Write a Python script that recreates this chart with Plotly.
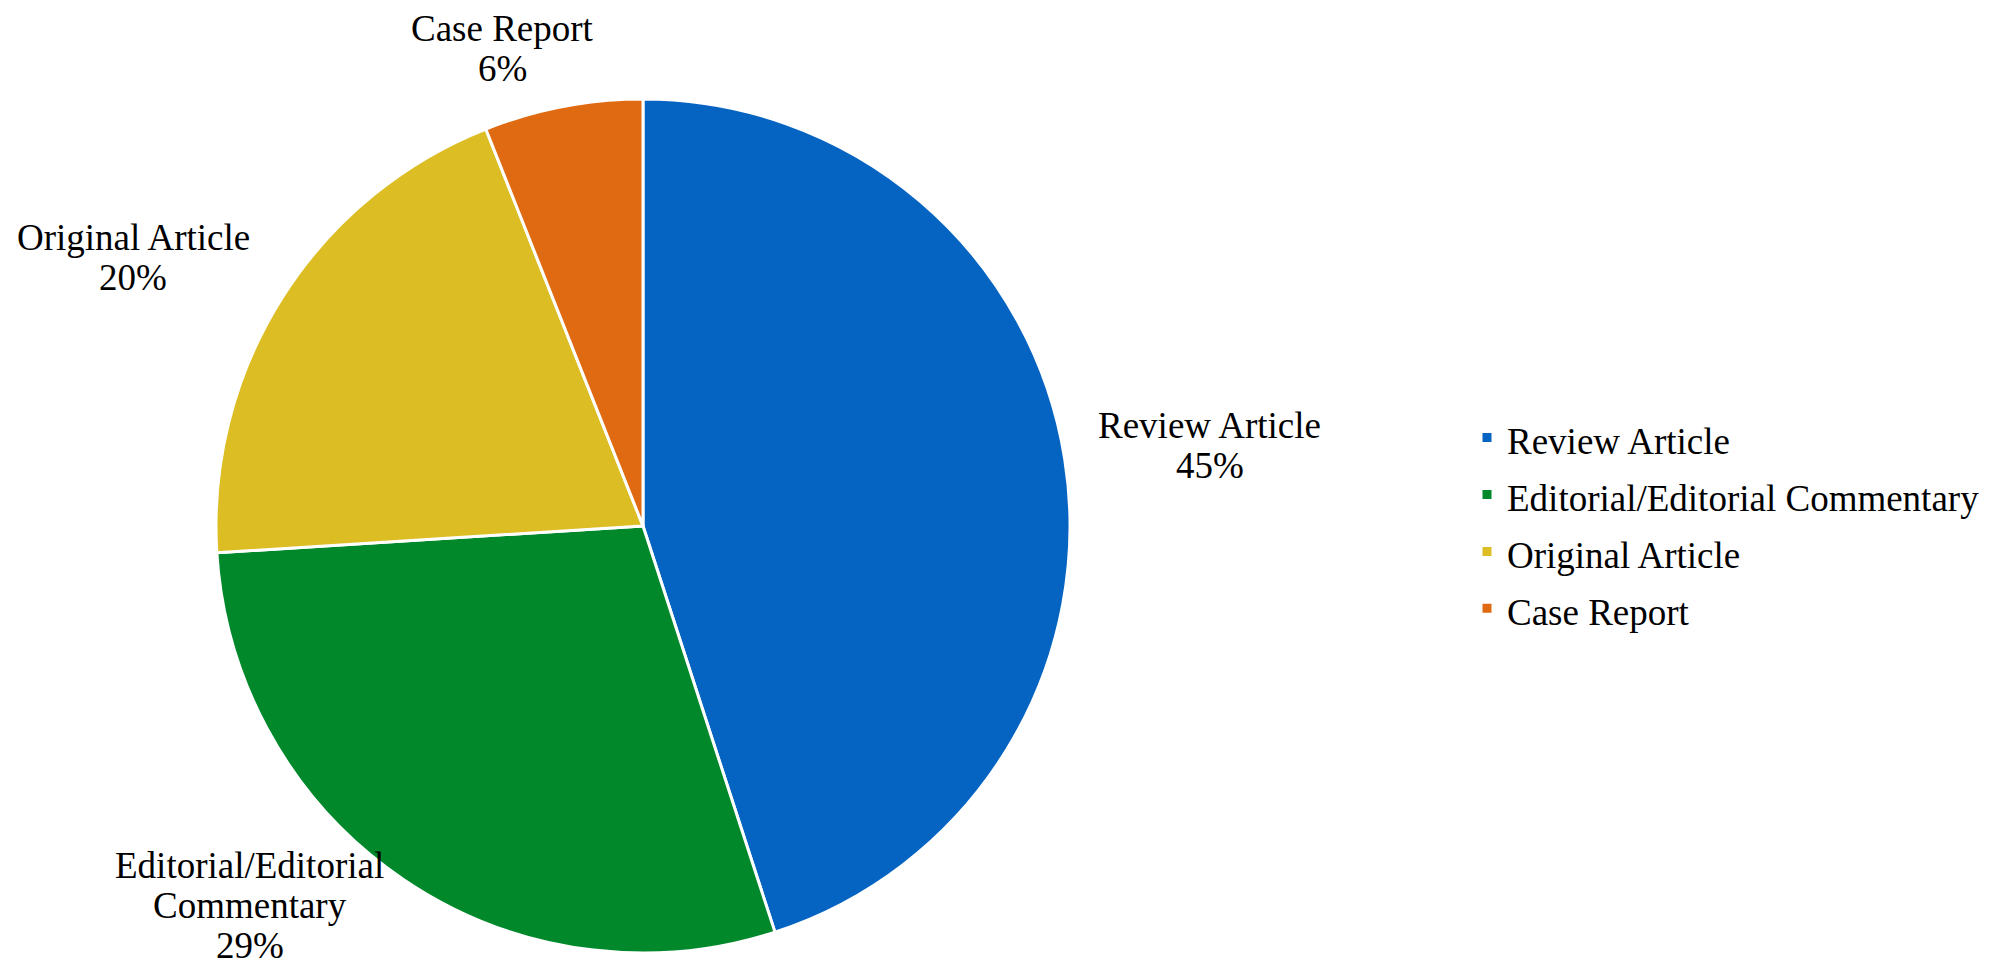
import math
import plotly.graph_objects as go

# ---- data ----
categories = ["Review Article", "Editorial/Editorial Commentary", "Original Article", "Case Report"]
label_lines = [["Review Article"], ["Editorial/Editorial", "Commentary"], ["Original Article"], ["Case Report"]]
values = [45, 29, 20, 6]
colors = ["#0563C1", "#00882B", "#DCBE24", "#E06A11"]

# ---- layout / style ----
W, H = 1998, 969
CX, CY, R = 643, 526, 427          # pie centre and radius (pixels)
FONT = "Liberation Serif, Times New Roman, serif"
FS = 37
LINE_GAP = 40
# label nudges (pixels) relative to the slice's mid-angle point on the rim
label_dx = [145, -153, -149, -60]
label_dy = [-14, 26, -40, -58]

legend_names = [f'<span style="font-size:{FS}px">{c}</span>' for c in categories]

fig = go.Figure()
fig.add_trace(go.Pie(
    labels=legend_names,
    values=values,
    sort=False,
    direction="clockwise",
    rotation=0,
    marker=dict(colors=colors, line=dict(color="white", width=3)),
    textinfo="none",
    hoverinfo="label+percent",
    domain=dict(x=[(CX - R) / W, (CX + R) / W],
                y=[(H - CY - R) / H, (H - CY + R) / H]),
))

# data labels, positioned from each slice's mid angle
total = sum(values)
cum = 0
annotations = []
for i, v in enumerate(values):
    mid = (cum + v / 2) / total * 2 * math.pi
    cum += v
    px = CX + R * math.sin(mid)
    py = CY - R * math.cos(mid)
    pct = round(v / total * 100)
    lines = label_lines[i] + [f"{pct}%"]
    n = len(lines)
    for j, line in enumerate(lines):
        off = (j - (n - 1) / 2) * LINE_GAP
        annotations.append(dict(
            x=px / W, y=1 - py / H, xref="paper", yref="paper",
            text=line,
            showarrow=False, xanchor="center", yanchor="middle",
            xshift=label_dx[i], yshift=-(label_dy[i] + off),
            font=dict(family=FONT, size=FS, color="black"),
            align="center",
        ))

fig.update_layout(
    width=W, height=H,
    margin=dict(l=0, r=0, t=0, b=0),
    paper_bgcolor="white", plot_bgcolor="white",
    font=dict(family=FONT, size=FS, color="black"),
    annotations=annotations,
    showlegend=True,
    legend=dict(
        x=1467 / W, xanchor="left",
        y=1 - 523 / H, yanchor="middle",
        font=dict(family=FONT, size=41.5, color="black"),
        bgcolor="rgba(0,0,0,0)",
        traceorder="normal",
    ),
)

fig.write_html(
    "out.html",
    config={"displayModeBar": False},
    post_script="document.body.style.margin='0';document.body.style.overflow='hidden';",
)
